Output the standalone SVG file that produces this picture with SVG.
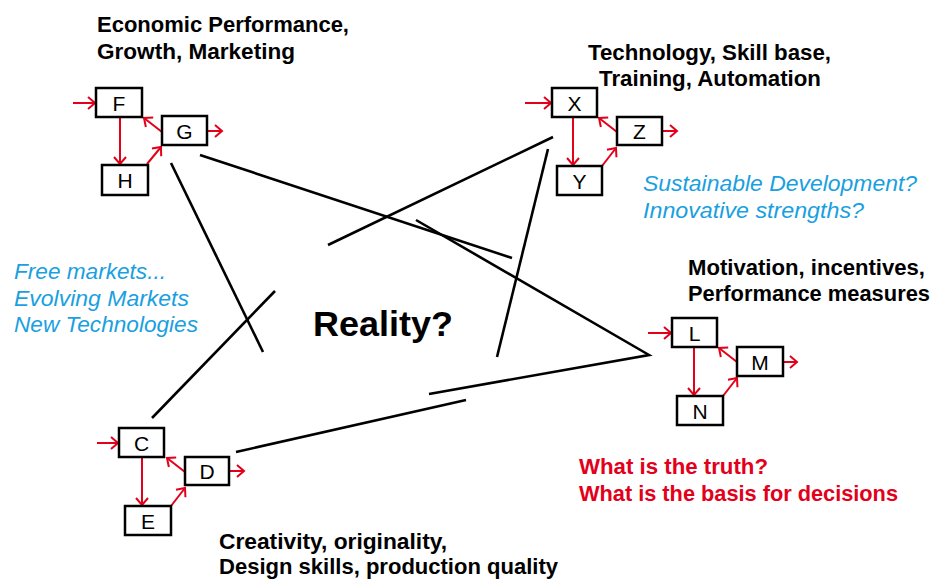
<svg xmlns="http://www.w3.org/2000/svg" width="933" height="580" viewBox="0 0 933 580">
<style>
.box{fill:#fff;stroke:#000;stroke-width:2.5}
.lbl{font-family:"Liberation Sans",Arial,sans-serif;font-size:21px;text-anchor:middle;fill:#000}
.ar{stroke:#e2001a;stroke-width:2;fill:none;marker-end:url(#ah)}
.ln{stroke:#000;stroke-width:2.6;fill:none}
.hd{font-family:"Liberation Sans",Arial,sans-serif;font-weight:bold;font-size:22px;fill:#000}
.bl{font-family:"Liberation Sans",Arial,sans-serif;font-style:italic;font-size:22px;fill:#1a9fe0}
.rd{font-family:"Liberation Sans",Arial,sans-serif;font-weight:bold;font-size:22px;fill:#e2001a}
</style>
<defs>
<marker id="ah" markerUnits="userSpaceOnUse" viewBox="-9 -8 11 16" markerWidth="11" markerHeight="16" refX="0" refY="0" orient="auto">
<path d="M-7,-6 L0,0 L-7,6" fill="none" stroke="#e2001a" stroke-width="2"/>
</marker>
</defs>
<rect width="933" height="580" fill="#fff"/>
<g id="connectors">
<line class="ln" x1="200" y1="155" x2="512" y2="258"/>
<line class="ln" x1="171" y1="163" x2="263" y2="352"/>
<line class="ln" x1="553" y1="137" x2="328" y2="245"/>
<line class="ln" x1="548" y1="149" x2="497" y2="357"/>
<polyline class="ln" points="416,220 649,355 429,394"/>
<line class="ln" x1="152" y1="418" x2="275" y2="291"/>
<line class="ln" x1="236" y1="452" x2="466" y2="400"/>
</g>
<g id="group-FGH">
<line class="ar" x1="73" y1="103" x2="95" y2="103"/>
<line class="ar" x1="120" y1="117" x2="120" y2="164"/>
<line class="ar" x1="162" y1="132" x2="144" y2="118"/>
<line class="ar" x1="147" y1="164" x2="161" y2="147"/>
<line class="ar" x1="202" y1="131" x2="222" y2="131"/>
<g id="node-F"><rect class="box" x="96" y="88" width="46" height="29"/><text class="lbl" x="119" y="110.5">F</text></g>
<g id="node-G"><rect class="box" x="162" y="116" width="45" height="29"/><text class="lbl" x="184.5" y="138.5">G</text></g>
<g id="node-H"><rect class="box" x="102" y="165" width="46" height="30"/><text class="lbl" x="125" y="188">H</text></g>
</g>
<g id="group-XYZ">
<line class="ar" x1="525" y1="103" x2="551" y2="103"/>
<line class="ar" x1="573" y1="117" x2="573" y2="165"/>
<line class="ar" x1="617" y1="132" x2="599" y2="118"/>
<line class="ar" x1="602" y1="166" x2="616" y2="148"/>
<line class="ar" x1="655" y1="131" x2="677" y2="131"/>
<g id="node-X"><rect class="box" x="552" y="88" width="45" height="29"/><text class="lbl" x="574.5" y="110.5">X</text></g>
<g id="node-Z"><rect class="box" x="617" y="117" width="45" height="28"/><text class="lbl" x="639.5" y="138.5">Z</text></g>
<g id="node-Y"><rect class="box" x="557" y="166" width="45" height="29"/><text class="lbl" x="579.5" y="188.5">Y</text></g>
</g>
<g id="group-LMN">
<line class="ar" x1="648" y1="333" x2="671" y2="333"/>
<line class="ar" x1="694" y1="347" x2="694" y2="395"/>
<line class="ar" x1="737" y1="362" x2="719" y2="348"/>
<line class="ar" x1="723" y1="396" x2="737" y2="378"/>
<line class="ar" x1="775" y1="362" x2="797" y2="362"/>
<g id="node-L"><rect class="box" x="672" y="318" width="45" height="29"/><text class="lbl" x="694.5" y="340.5">L</text></g>
<g id="node-M"><rect class="box" x="737" y="347" width="46" height="29"/><text class="lbl" x="760" y="369.5">M</text></g>
<g id="node-N"><rect class="box" x="677" y="396" width="46" height="29"/><text class="lbl" x="700" y="418.5">N</text></g>
</g>
<g id="group-CDE">
<line class="ar" x1="97" y1="443" x2="118" y2="443"/>
<line class="ar" x1="142" y1="457" x2="142" y2="505"/>
<line class="ar" x1="185" y1="472" x2="167" y2="458"/>
<line class="ar" x1="171" y1="506" x2="185" y2="488"/>
<line class="ar" x1="222" y1="471" x2="244" y2="471"/>
<g id="node-C"><rect class="box" x="119" y="428" width="45" height="29"/><text class="lbl" x="141.5" y="450.5">C</text></g>
<g id="node-D"><rect class="box" x="185" y="457" width="44" height="28"/><text class="lbl" x="207" y="478.5">D</text></g>
<g id="node-E"><rect class="box" x="125" y="506" width="46" height="29"/><text class="lbl" x="148" y="528.5">E</text></g>
</g>
<g id="labels">
<text class="hd" x="97" y="32" textLength="252" lengthAdjust="spacingAndGlyphs">Economic Performance,</text>
<text class="hd" x="97" y="59" textLength="198" lengthAdjust="spacingAndGlyphs">Growth, Marketing</text>
<text class="hd" x="588" y="60" textLength="243" lengthAdjust="spacingAndGlyphs">Technology, Skill base,</text>
<text class="hd" x="599" y="86" textLength="222" lengthAdjust="spacingAndGlyphs">Training, Automation</text>
<text class="hd" x="688" y="275" textLength="237" lengthAdjust="spacingAndGlyphs">Motivation, incentives,</text>
<text class="hd" x="688" y="301" textLength="242" lengthAdjust="spacingAndGlyphs">Performance measures</text>
<text class="hd" x="219" y="549" textLength="228" lengthAdjust="spacingAndGlyphs">Creativity, originality,</text>
<text class="hd" x="219" y="574" textLength="339" lengthAdjust="spacingAndGlyphs">Design skills, production quality</text>
<text class="bl" x="14" y="279" textLength="152" lengthAdjust="spacingAndGlyphs">Free markets...</text>
<text class="bl" x="14" y="306" textLength="175" lengthAdjust="spacingAndGlyphs">Evolving Markets</text>
<text class="bl" x="14" y="332" textLength="184" lengthAdjust="spacingAndGlyphs">New Technologies</text>
<text class="bl" x="643" y="191" textLength="274" lengthAdjust="spacingAndGlyphs">Sustainable Development?</text>
<text class="bl" x="643" y="218" textLength="221" lengthAdjust="spacingAndGlyphs">Innovative strengths?</text>
<text class="rd" x="579" y="474" textLength="189" lengthAdjust="spacingAndGlyphs">What is the truth?</text>
<text class="rd" x="579" y="501" textLength="319" lengthAdjust="spacingAndGlyphs">What is the basis for decisions</text>
<text class="hd" x="313" y="336" style="font-size:35px" textLength="140" lengthAdjust="spacingAndGlyphs">Reality?</text>
</g>
</svg>
